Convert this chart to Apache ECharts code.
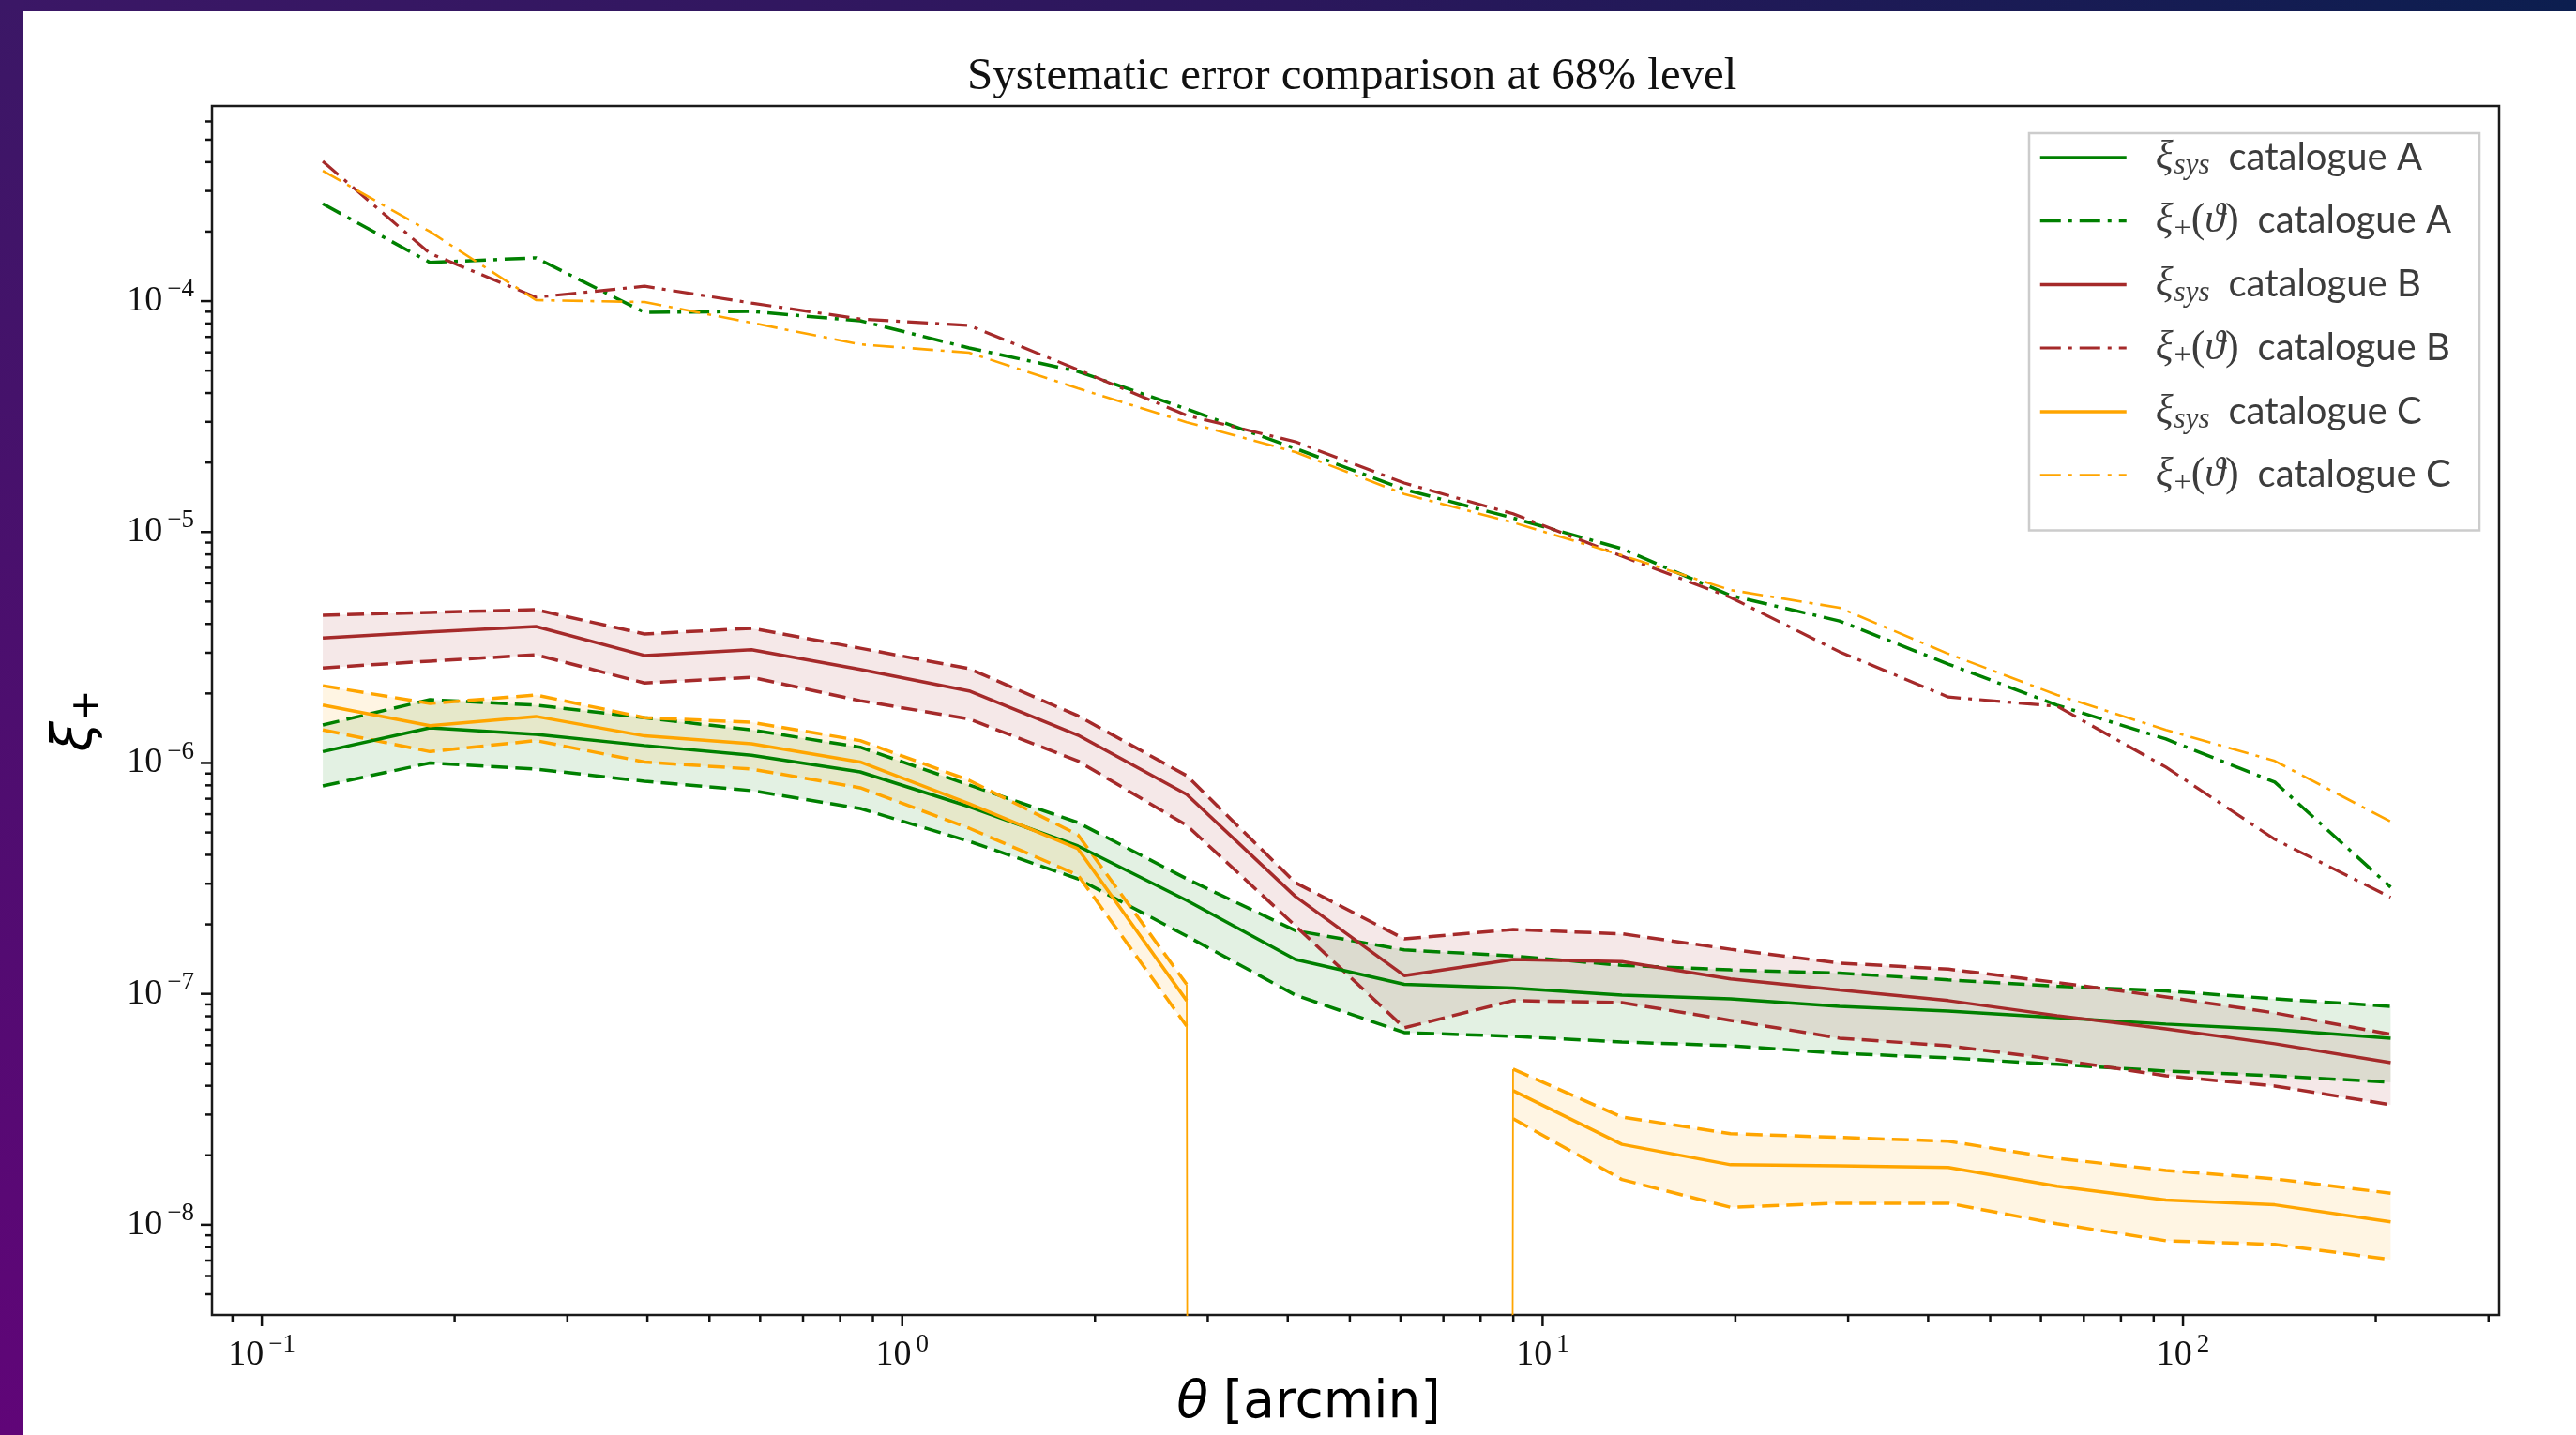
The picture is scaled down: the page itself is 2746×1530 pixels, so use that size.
<!DOCTYPE html>
<html>
<head>
<meta charset="utf-8">
<script src="https://cdn.jsdelivr.net/npm/echarts@6/dist/echarts.min.js"></script>
<style>
html,body{margin:0;padding:0;background:#ffffff;}
#chart{width:2746px;height:1530px;}
</style>
</head>
<body>
<div id="chart"></div>
<script>
// ---------- data ----------
const theta = [0.1245, 0.1830, 0.2680, 0.3960, 0.5817, 0.8598, 1.272, 1.881, 2.781, 4.112,
               6.081, 8.993, 13.30, 19.66, 29.08, 43.00, 63.59, 94.04, 139.1, 211.0];

const xiPlusA = [2.64e-4, 1.47e-4, 1.54e-4, 8.94e-5, 9.02e-5, 8.22e-5, 6.27e-5, 4.96e-5, 3.41e-5, 2.30e-5,
                 1.53e-5, 1.15e-5, 8.47e-6, 5.31e-6, 4.12e-6, 2.68e-6, 1.78e-6, 1.27e-6, 8.26e-7, 2.90e-7];
const xiPlusB = [4.03e-4, 1.61e-4, 1.04e-4, 1.16e-4, 9.81e-5, 8.37e-5, 7.84e-5, 5.05e-5, 3.20e-5, 2.46e-5,
                 1.63e-5, 1.20e-5, 7.86e-6, 5.21e-6, 3.03e-6, 1.93e-6, 1.76e-6, 9.59e-7, 4.67e-7, 2.62e-7];
const xiPlusC = [3.67e-4, 2.00e-4, 1.01e-4, 9.91e-5, 8.06e-5, 6.50e-5, 5.98e-5, 4.19e-5, 2.99e-5, 2.22e-5,
                 1.46e-5, 1.10e-5, 7.93e-6, 5.61e-6, 4.70e-6, 2.97e-6, 1.97e-6, 1.39e-6, 1.02e-6, 5.57e-7];

const sysA   = [1.12e-6, 1.42e-6, 1.33e-6, 1.19e-6, 1.08e-6, 9.15e-7, 6.47e-7, 4.37e-7, 2.54e-7, 1.41e-7,
                1.10e-7, 1.06e-7, 9.88e-8, 9.52e-8, 8.83e-8, 8.43e-8, 7.90e-8, 7.40e-8, 7.00e-8, 6.43e-8];
const sysAUp = [1.46e-6, 1.88e-6, 1.78e-6, 1.57e-6, 1.39e-6, 1.17e-6, 8.03e-7, 5.52e-7, 3.15e-7, 1.88e-7,
                1.55e-7, 1.46e-7, 1.33e-7, 1.27e-7, 1.23e-7, 1.15e-7, 1.08e-7, 1.03e-7, 9.52e-8, 8.83e-8];
const sysALo = [7.95e-7, 1.00e-6, 9.41e-7, 8.33e-7, 7.59e-7, 6.35e-7, 4.58e-7, 3.15e-7, 1.78e-7, 9.88e-8,
                6.80e-8, 6.55e-8, 6.19e-8, 5.96e-8, 5.53e-8, 5.28e-8, 4.95e-8, 4.63e-8, 4.42e-8, 4.14e-8];

const sysB   = [3.48e-6, 3.69e-6, 3.90e-6, 2.92e-6, 3.09e-6, 2.54e-6, 2.05e-6, 1.32e-6, 7.31e-7, 2.64e-7,
                1.20e-7, 1.41e-7, 1.38e-7, 1.16e-7, 1.04e-7, 9.35e-8, 8.05e-8, 7.06e-8, 6.08e-8, 5.04e-8];
const sysBUp = [4.36e-6, 4.49e-6, 4.61e-6, 3.62e-6, 3.83e-6, 3.14e-6, 2.56e-6, 1.60e-6, 8.81e-7, 3.03e-7,
                1.73e-7, 1.90e-7, 1.82e-7, 1.56e-7, 1.36e-7, 1.28e-7, 1.12e-7, 9.70e-8, 8.27e-8, 6.68e-8];
const sysBLo = [2.58e-6, 2.76e-6, 2.94e-6, 2.22e-6, 2.35e-6, 1.86e-6, 1.55e-6, 1.02e-6, 5.37e-7, 1.97e-7,
                7.13e-8, 9.35e-8, 9.17e-8, 7.68e-8, 6.43e-8, 5.96e-8, 5.19e-8, 4.42e-8, 3.99e-8, 3.31e-8];

// null = non-positive value (not drawable on a log axis)
const sysC   = [1.78e-6, 1.45e-6, 1.59e-6, 1.31e-6, 1.21e-6, 1.01e-6, 6.66e-7, 4.25e-7, 9.35e-8, null,
                null, 3.81e-8, 2.23e-8, 1.82e-8, 1.80e-8, 1.77e-8, 1.47e-8, 1.28e-8, 1.22e-8, 1.03e-8];
const sysCUp = [2.16e-6, 1.81e-6, 1.97e-6, 1.57e-6, 1.50e-6, 1.25e-6, 8.41e-7, 4.89e-7, 1.10e-7, null,
                null, 4.72e-8, 2.93e-8, 2.48e-8, 2.39e-8, 2.30e-8, 1.94e-8, 1.72e-8, 1.58e-8, 1.37e-8];
const sysCLo = [1.39e-6, 1.12e-6, 1.25e-6, 1.01e-6, 9.41e-7, 7.81e-7, 5.22e-7, 3.27e-7, 7.26e-8, null,
                null, 2.88e-8, 1.57e-8, 1.19e-8, 1.24e-8, 1.24e-8, 1.01e-8, 8.53e-9, 8.22e-9, 7.07e-9];

const legendNames = ['ξsys catalogue A', 'ξ+(ϑ) catalogue A', 'ξsys catalogue B',
                     'ξ+(ϑ) catalogue B', 'ξsys catalogue C', 'ξ+(ϑ) catalogue C'];

const xMajorTicks = [0.1, 1, 10, 100];
const yMajorTicks = [1e-8, 1e-7, 1e-6, 1e-5, 1e-4];

// ---------- axis ranges ----------
const X_MIN = 0.0836, X_MAX = 311.6;
const Y_MIN = 4.07e-9, Y_MAX = 7.0e-4;
const FLOOR = 1e-300; // where matplotlib clips non-positive values on a log axis

const GREEN = '#008000', BROWN = '#a52a2a', ORANGE = '#ffa500';
const DASH = [18, 8];
const DASHDOT = [22, 8, 4, 8];
const LINE_W = { 'ξsys catalogue A': 3.5, 'ξ+(ϑ) catalogue A': 3.5, 'ξsys catalogue B': 3.5,
                 'ξ+(ϑ) catalogue B': 3.2, 'ξsys catalogue C': 3.5, 'ξ+(ϑ) catalogue C': 2.6 };

function minorTicks(lo, hi) {
  const out = [];
  for (let e = -10; e <= 3; e++) {
    for (let m = 2; m <= 9; m++) {
      const v = m * Math.pow(10, e);
      if (v > lo * 1.0001 && v < hi * 0.9999) out.push(v);
    }
  }
  return out;
}
const xMinorTicks = minorTicks(X_MIN, X_MAX);
const yMinorTicks = minorTicks(Y_MIN, Y_MAX);

function pair(ys) { return theta.map((x, i) => [x, ys[i] == null ? '-' : ys[i]]); }

function lineS(name, ys, color, width, type, z) {
  return {
    type: 'line', name: name, data: pair(ys), symbol: 'none', showSymbol: false,
    lineStyle: { color: color, width: width, type: type, cap: 'butt' },
    itemStyle: { color: color }, z: z || 3, clip: true, connectNulls: false,
    emphasis: { disabled: true }, silent: true
  };
}

function bandS(upper, lower, fill) {
  return {
    type: 'custom', silent: true, z: 1, clip: true,
    data: [[theta[0], upper[0]]],
    renderItem: function (params, api) {
      const children = [];
      let seg = [];
      const flush = function () {
        if (seg.length > 1) {
          const pts = seg.map(i => api.coord([theta[i], upper[i]]))
            .concat(seg.slice().reverse().map(i => api.coord([theta[i], lower[i]])));
          children.push({ type: 'polygon', shape: { points: pts }, style: { fill: fill } });
        }
        seg = [];
      };
      for (let i = 0; i < theta.length; i++) {
        if (upper[i] == null || lower[i] == null) flush(); else seg.push(i);
      }
      flush();
      return { type: 'group', children: children };
    }
  };
}

function tickS(ticks, len, isX) {
  return {
    type: 'custom', silent: true, z: 6, clip: false,
    data: ticks.map(v => isX ? [v, Y_MIN] : [X_MIN, v]),
    renderItem: function (params, api) {
      const p = api.coord([api.value(0), api.value(1)]);
      const shape = isX ? { x1: p[0], y1: p[1], x2: p[0], y2: p[1] + len }
                        : { x1: p[0] - len, y1: p[1], x2: p[0], y2: p[1] };
      return { type: 'line', shape: shape, style: { stroke: '#111', lineWidth: 2.5 } };
    }
  };
}

// thin edge of the catalogue C band where it drops to non-positive values
const dropC = theta.map((x, i) => {
  if (sysCUp[i] == null) return [x, FLOOR];
  const nb = (i > 0 && sysCUp[i - 1] == null) || (i < theta.length - 1 && sysCUp[i + 1] == null);
  return nb ? [x, sysCUp[i]] : [x, '-'];
});

function powLabel(v) {
  const l = Math.log10(v);
  const e = Math.round(l);
  if (Math.abs(l - e) > 1e-6) return '';
  return '{b|10}{e|' + (e < 0 ? '−' : '') + Math.abs(e) + '}';
}
const tickRich = {
  b: { fontFamily: 'Liberation Serif', fontSize: 38, color: '#111' },
  e: { fontFamily: 'Liberation Serif', fontSize: 27, color: '#111', padding: [0, 0, 24, 5] }
};

const TXT = '#3c3c3c';
const legendRich = {
  x0: { fontFamily: 'Liberation Serif', fontStyle: 'italic', fontSize: 44, color: TXT, padding: [0, 0, 0, 26] },
  x:  { fontFamily: 'Liberation Serif', fontSize: 44, color: TXT },
  v:  { fontFamily: 'Liberation Serif', fontStyle: 'italic', fontSize: 44, color: TXT },
  s:  { fontFamily: 'Liberation Serif', fontStyle: 'italic', fontSize: 31, color: TXT, padding: [18, 0, 0, 1] },
  p:  { fontFamily: 'Liberation Serif', fontSize: 32, color: TXT, padding: [18, 0, 0, 1] },
  t:  { fontFamily: 'Lato', fontSize: 40, color: TXT, padding: [0, 0, 0, 20] },
  t2: { fontFamily: 'Lato', fontSize: 40, color: TXT, padding: [0, 0, 0, 20] }
};
function legendFmt(name) {
  const rest = name.replace(/^ξsys |^ξ\+\(ϑ\) /, '');
  if (name.indexOf('ξsys') === 0) return '{x0|ξ}{s|sys}{t|' + rest + '}';
  return '{x0|ξ}{p|+}{x|(}{v|ϑ}{x|)}{t2|' + rest + '}';
}

const chart = echarts.init(document.getElementById('chart'), null, { renderer: 'canvas' });

const option = {
  animation: false,
  backgroundColor: '#ffffff',
  title: {
    text: 'Systematic error comparison at 68% level',
    left: 1031, top: 58, padding: 0,
    textStyle: { fontFamily: 'Liberation Serif', fontWeight: 'normal', fontSize: 49, color: '#111' }
  },
  graphic: [
    { type: 'rect', silent: true, z: 100, shape: { x: 0, y: 0, width: 2746, height: 12 },
      style: { fill: new echarts.graphic.LinearGradient(0, 0, 1, 0, [
        { offset: 0, color: '#3b1766' }, { offset: 0.5, color: '#2b175c' }, { offset: 1, color: '#0c1e4f' }]) } },
    { type: 'rect', silent: true, z: 100, shape: { x: 0, y: 0, width: 25, height: 1530 },
      style: { fill: new echarts.graphic.LinearGradient(0, 0, 0, 1, [
        { offset: 0, color: '#3b1766' }, { offset: 1, color: '#600578' }]) } }
  ],
  grid: {
    left: 226, top: 113, width: 2438, height: 1289,
    show: true, borderColor: '#1a1a1a', borderWidth: 2.5, backgroundColor: 'transparent',
    containLabel: false
  },
  legend: {
    orient: 'vertical', left: 2163, top: 142,
    data: legendNames.map(n => ({ name: n, lineStyle: { width: LINE_W[n] } })),
    itemWidth: 92, itemHeight: 14, itemGap: 20,
    padding: [3, 30, 34, 10],
    borderColor: '#cccccc', borderWidth: 2.5, borderRadius: 0, backgroundColor: '#ffffff',
    selectedMode: false,
    itemStyle: { color: 'rgba(0,0,0,0)', borderColor: 'rgba(0,0,0,0)', borderWidth: 0, opacity: 0 },
    lineStyle: { width: 3.5 },
    textStyle: { color: TXT, lineHeight: 46, rich: legendRich },
    formatter: legendFmt
  },
  xAxis: {
    type: 'log', logBase: 10, min: X_MIN, max: X_MAX,
    axisLine: { show: false }, axisTick: { show: false }, splitLine: { show: false },
    axisLabel: { formatter: powLabel, margin: 18, rich: tickRich, color: '#111' },
    name: '{t|θ}{u|[arcmin]}', nameLocation: 'middle', nameGap: 37,
    nameTextStyle: {
      padding: [0, 100, 0, 0],
      rich: {
        t: { fontFamily: 'DejaVu Sans', fontStyle: 'italic', fontSize: 55, color: '#000' },
        u: { fontFamily: 'DejaVu Sans', fontSize: 55, color: '#000', padding: [0, 0, 0, 16] }
      }
    }
  },
  yAxis: {
    type: 'log', logBase: 10, min: Y_MIN, max: Y_MAX,
    axisLine: { show: false }, axisTick: { show: false }, splitLine: { show: false },
    axisLabel: { formatter: powLabel, margin: 19, rich: tickRich, color: '#111' },
    name: '{a|ξ}{s|+}', nameLocation: 'middle', nameRotate: 90, nameGap: 112,
    nameTextStyle: {
      padding: [0, 22, 0, 0],
      rich: {
        a: { fontFamily: 'DejaVu Sans', fontStyle: 'italic', fontSize: 58, color: '#000' },
        s: { fontFamily: 'DejaVu Sans', fontSize: 40, color: '#000', padding: [24, 0, 0, 0] }
      }
    }
  },
  series: [
    bandS(sysAUp, sysALo, 'rgba(0,128,0,0.11)'),
    bandS(sysBUp, sysBLo, 'rgba(165,42,42,0.11)'),
    bandS(sysCUp, sysCLo, 'rgba(255,165,0,0.11)'),

    lineS('ξsys catalogue A', sysA, GREEN, 3.5, 'solid', 4),
    lineS('A upper', sysAUp, GREEN, 3.5, DASH, 3),
    lineS('A lower', sysALo, GREEN, 3.5, DASH, 3),
    lineS('ξ+(ϑ) catalogue A', xiPlusA, GREEN, 3.5, DASHDOT, 3),

    lineS('ξsys catalogue B', sysB, BROWN, 3.5, 'solid', 4),
    lineS('B upper', sysBUp, BROWN, 3.5, DASH, 3),
    lineS('B lower', sysBLo, BROWN, 3.5, DASH, 3),
    lineS('ξ+(ϑ) catalogue B', xiPlusB, BROWN, 3.2, DASHDOT, 3),

    lineS('ξsys catalogue C', sysC, ORANGE, 3.5, 'solid', 4),
    lineS('C upper', sysCUp, ORANGE, 3.5, DASH, 3),
    lineS('C lower', sysCLo, ORANGE, 3.5, DASH, 3),
    lineS('ξ+(ϑ) catalogue C', xiPlusC, ORANGE, 2.6, DASHDOT, 3),
    {
      type: 'line', name: 'C band edge', data: dropC, symbol: 'none', showSymbol: false,
      lineStyle: { color: ORANGE, width: 1.8 }, z: 3, clip: true, connectNulls: false, silent: true
    },

    tickS(xMajorTicks, 12, true),
    tickS(xMinorTicks, 7, true),
    tickS(yMajorTicks, 12, false),
    tickS(yMinorTicks, 7, false)
  ]
};
chart.setOption(option);
</script>
</body>
</html>
